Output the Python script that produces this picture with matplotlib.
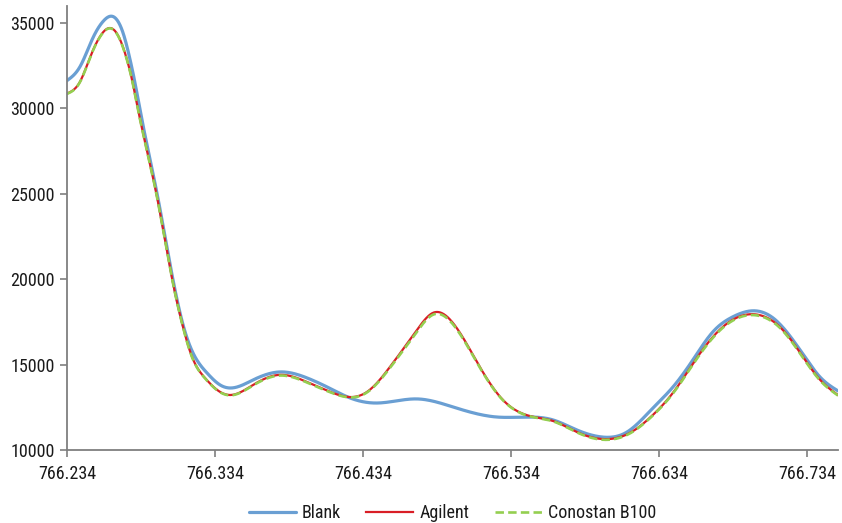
import numpy as np
import matplotlib
matplotlib.use("Agg")
import matplotlib.pyplot as plt
from matplotlib import font_manager

# ---- data ----
blank_x = [766.2340, 766.2428, 766.2516, 766.2583, 766.2651, 766.2718, 766.2766, 766.2799,
           766.2833, 766.2955, 766.3056, 766.3124, 766.3191,
           766.3286, 766.3374, 766.3441, 766.3597, 766.3779, 766.3962, 766.4137, 766.4252,
           766.4435, 766.4705, 766.4948, 766.5245, 766.5468, 766.5624, 766.5786, 766.5955,
           766.6124, 766.6300, 766.6435, 766.6570, 766.6705, 766.6840, 766.6975, 766.7110,
           766.7340, 766.7428, 766.7550]
blank_y = [31630, 32450, 34150, 35090, 35380, 34440, 32860, 31510,
           29930, 24720, 19970, 17330, 15690,
           14510, 13810, 13630, 14100, 14570, 14220, 13520, 13050,
           12750, 12990, 12520, 11930, 11930, 11760, 11170, 10760,
           11050, 12460, 13690, 15280, 16920, 17800, 18150, 17740,
           15280, 14280, 13460]

agilent_x = [766.2340, 766.2428, 766.2495, 766.2563, 766.2644, 766.2698, 766.2745, 766.2779,
             766.2820, 766.2948, 766.3049, 766.3117, 766.3185,
             766.3272, 766.3354, 766.3441, 766.3597, 766.3779, 766.3962, 766.4137, 766.4252,
             766.4367, 766.4522, 766.4705, 766.4813, 766.4948, 766.5130, 766.5286, 766.5468,
             766.5624, 766.5786, 766.5962, 766.6144, 766.6299, 766.6434, 766.6597, 766.6752,
             766.7015, 766.7158, 766.7314, 766.7428, 766.7550]
agilent_y = [30870, 31570, 32980, 34210, 34680, 34040, 32860, 31690,
             29930, 24830, 20080, 17440, 15450,
             14220, 13520, 13220, 13810, 14400, 13980, 13340, 13100,
             13400, 14860, 17030, 18030, 17440, 14860, 12930, 11990,
             11700, 11050, 10640, 11000, 12050, 13340, 15400, 17050,
             17910, 17200, 15450, 14120, 13220]
conostan_y = [30850, 31550, 32960, 34190, 34660, 34020, 32840, 31670,
              29910, 24810, 20060, 17420, 15430,
              14200, 13500, 13200, 13780, 14360, 13950, 13320, 13080,
              13370, 14800, 16930, 17920, 17360, 14820, 12910, 11970,
              11680, 11030, 10600, 10970, 12020, 13300, 15350, 17000,
              17860, 17150, 15400, 14080, 13190]

series_names = ["Blank", "Agilent", "Conostan B100"]
x_ticks = [766.234, 766.334, 766.434, 766.534, 766.634, 766.734]
y_ticks = [10000, 15000, 20000, 25000, 30000, 35000]


def smooth(x, y, n=30):
    """Natural cubic spline through the points (smoothed line like the original)."""
    x = np.asarray(x, float)
    y = np.asarray(y, float)
    N = len(x)
    h = np.diff(x)
    A = np.zeros((N, N))
    r = np.zeros(N)
    A[0, 0] = A[-1, -1] = 1
    for i in range(1, N - 1):
        A[i, i - 1] = h[i - 1]
        A[i, i] = 2 * (h[i - 1] + h[i])
        A[i, i + 1] = h[i]
        r[i] = 3 * ((y[i + 1] - y[i]) / h[i] - (y[i] - y[i - 1]) / h[i - 1])
    c = np.linalg.solve(A, r)
    ox, oy = [], []
    for i in range(N - 1):
        b = (y[i + 1] - y[i]) / h[i] - h[i] * (2 * c[i] + c[i + 1]) / 3
        d = (c[i + 1] - c[i]) / (3 * h[i])
        t = np.linspace(0, h[i], n, endpoint=False)
        ox.extend(x[i] + t)
        oy.extend(y[i] + b * t + c[i] * t**2 + d * t**3)
    ox.append(x[-1])
    oy.append(y[-1])
    return np.array(ox), np.array(oy)


# pick a condensed sans font if one is installed
font_file = None
pref = ["LiberationSansNarrow-Regular", "RobotoCondensed-Regular", "DejaVuSansCondensed.ttf",
        "OpenSans_Condensed-Regular", "OpenSansCondensed"]
files = [f.fname for f in font_manager.fontManager.ttflist]
for p in pref:
    hits = [f for f in files if p in f and "Bold" not in f and "Italic" not in f and "Oblique" not in f]
    if hits:
        font_file = hits[0]
        break
if font_file:
    font_manager.fontManager.addfont(font_file)
    fam_name = font_manager.FontProperties(fname=font_file).get_name()
    plt.rcParams['font.family'] = [fam_name, 'DejaVu Sans']
    size = 13
else:
    plt.rcParams['font.family'] = ['Roboto', 'DejaVu Sans']
    size = 12

fig = plt.figure(figsize=(8.42, 5.23), dpi=100)
ax = fig.add_axes([0.0796, 0.1396, 0.9156, 0.849])

bx, by = smooth(blank_x, blank_y)
ax.plot(bx, by, color="#6a9fd3", lw=2.3, label=series_names[0], solid_capstyle="round")
axx, ayy = smooth(agilent_x, agilent_y)
ax.plot(axx, ayy, color="#d91e26", lw=1.6, label=series_names[1])
cx, cy = smooth(agilent_x, conostan_y)
ax.plot(cx, cy, color="#94cf50", lw=1.9, ls=(0, (3.2, 1.6)), label=series_names[2])

ax.set_xlim(766.234, 766.755)
ax.set_ylim(10000, 36000)
ax.set_xticks(x_ticks)
ax.set_xticklabels([f"{v:.3f}" for v in x_ticks])
ax.set_yticks(y_ticks)
ax.set_yticklabels([str(v) for v in y_ticks])

for s in ["top", "right"]:
    ax.spines[s].set_visible(False)
for s in ["left", "bottom"]:
    ax.spines[s].set_color("#7f7f7f")
    ax.spines[s].set_linewidth(1.3)
ax.tick_params(axis="both", direction="out", length=5, width=1.2, color="#7f7f7f",
               labelsize=size, labelcolor="#1a1a1a")
ax.tick_params(axis="x", pad=6)
ax.tick_params(axis="y", pad=4)

leg = ax.legend(loc="upper center", bbox_to_anchor=(0.5, -0.085), ncol=3, frameon=False,
                fontsize=size, handlelength=2.6, columnspacing=1.4, handletextpad=0.35)
for t in leg.get_texts():
    t.set_color("#1a1a1a")

fig.savefig("out.png", dpi=100)
